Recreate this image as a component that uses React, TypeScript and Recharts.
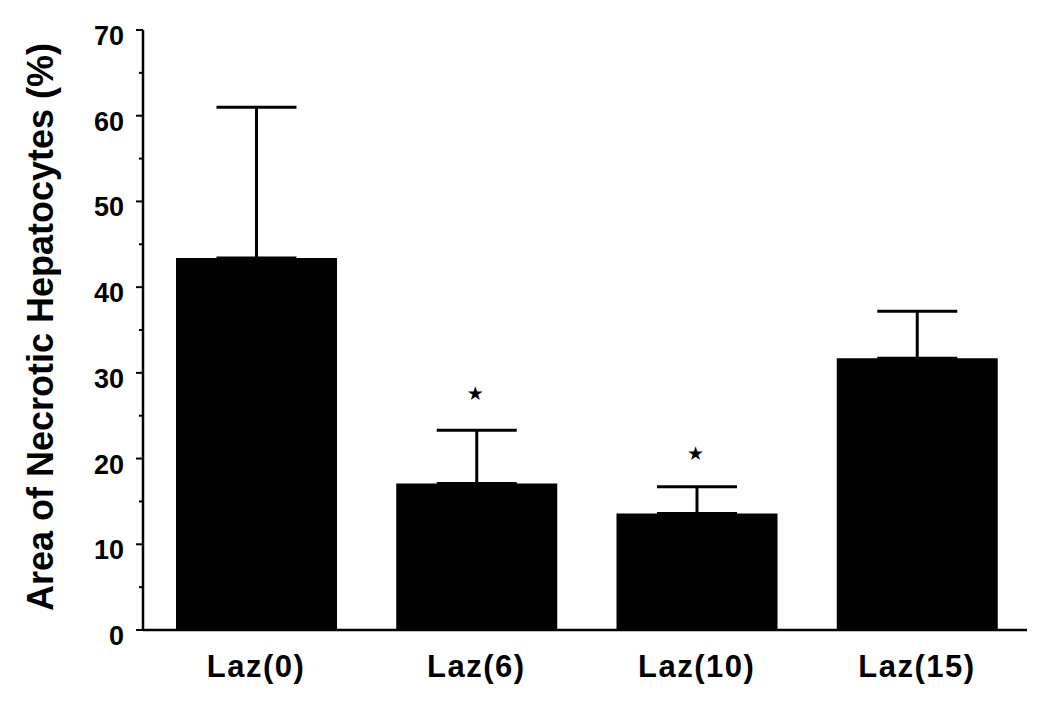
import React from 'react';
import { ComposedChart, Bar, XAxis, YAxis, ErrorBar, Scatter, Label } from 'recharts';

const categories = ['Laz(0)', 'Laz(6)', 'Laz(10)', 'Laz(15)'];
const means = [43.4, 17.1, 13.6, 31.7];
const errUp = [17.6, 6.2, 3.1, 5.5];
const starLevel: (number | null)[] = [null, 27.6, 20.6, null];
const yTicks = [0, 5, 10, 15, 20, 25, 30, 35, 40, 45, 50, 55, 60, 65, 70];

const data = categories.map((c, i) => ({
  name: c,
  value: means[i],
  err: [0, errUp[i]],
  star: starLevel[i],
}));

const FONT = '"Liberation Sans", Arial, Helvetica, sans-serif';

const YTick = (props: any) => {
  const { x, y, payload } = props;
  const major = payload.value % 10 === 0;
  return (
    <g>
      <line x1={x} x2={x - (major ? 7 : 4)} y1={y} y2={y} stroke="#000" strokeWidth={2} />
      {major && (
        <text
          x={x - 19}
          y={y + 6}
          textAnchor="end"
          dominantBaseline="central"
          fontFamily={FONT}
          fontWeight="bold"
          fontSize={27}
          fill="#000"
        >
          {payload.value}
        </text>
      )}
    </g>
  );
};

const XTick = (props: any) => {
  const { x, y, payload } = props;
  return (
    <text
      x={x}
      y={y + 36}
      textAnchor="middle"
      dominantBaseline="central"
      fontFamily={FONT}
      fontWeight="bold"
      fontSize={31}
      letterSpacing={1.5}
      fill="#000"
    >
      {payload.value}
    </text>
  );
};

const StarShape = (props: any) => {
  const { cx, cy, payload } = props;
  if (payload == null || payload.star == null) return null;
  return (
    <text
      x={cx - 1}
      y={cy}
      textAnchor="middle"
      dominantBaseline="central"
      fontFamily='"DejaVu Sans", sans-serif'
      fontSize={19}
      fill="#000"
    >
      ★
    </text>
  );
};

const YLabel = () => (
  <text
    x={53}
    y={327}
    transform="rotate(-90, 53, 327)"
    textAnchor="middle"
    fontFamily={FONT}
    fontWeight="bold"
    fontSize={36}
    fill="#000"
  >
    Area of Necrotic Hepatocytes (%)
  </text>
);

export default function App() {
  return (
    <div style={{ position: 'absolute', left: 0, top: 0, width: 1050, height: 701, background: '#fff' }}>
      <ComposedChart
        width={1050}
        height={701}
        data={data}
        margin={{ top: 30, right: 23, bottom: 11, left: 0 }}
      >
        <XAxis
          dataKey="name"
          type="category"
          height={60}
          tickLine={false}
          tickSize={0}
          tickMargin={0}
          tick={<XTick />}
          axisLine={{ stroke: '#000', strokeWidth: 2.5 }}
          padding={{ left: 3, right: 0 }}
        />
        <YAxis
          type="number"
          domain={[0, 70]}
          ticks={yTicks}
          interval={0}
          width={143}
          tickLine={false}
          tickSize={0}
          tickMargin={0}
          tick={<YTick />}
          axisLine={{ stroke: '#000', strokeWidth: 2.5 }}
        >
          <Label content={<YLabel />} />
        </YAxis>
        <Bar dataKey="value" fill="#000" barSize={161} isAnimationActive={false}>
          <ErrorBar dataKey="err" direction="y" width={40} stroke="#000" strokeWidth={3} isAnimationActive={false} />
        </Bar>
        <Scatter dataKey="star" shape={<StarShape />} isAnimationActive={false} />
      </ComposedChart>
    </div>
  );
}
